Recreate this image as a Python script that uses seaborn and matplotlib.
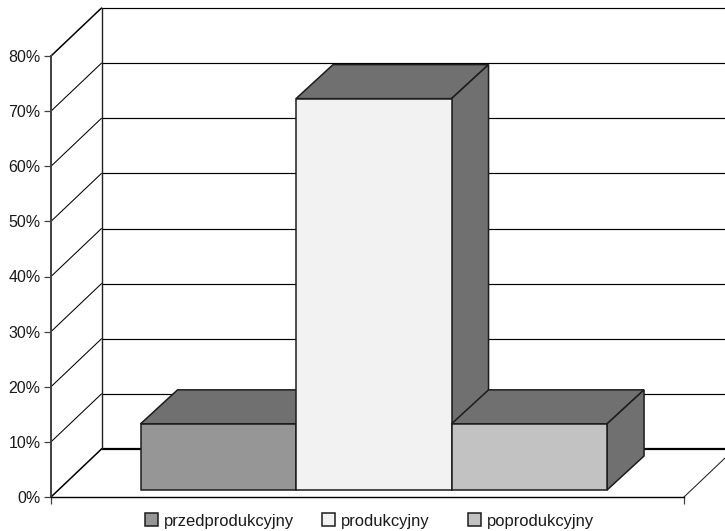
"""Pseudo-3D bar chart (Excel look) drawn with seaborn plus projected faces."""

import matplotlib
matplotlib.use("Agg")
import matplotlib.pyplot as plt
from matplotlib.patches import Polygon
import pandas as pd
import seaborn as sns

CATEGORIES = ["przedprodukcyjny", "produkcyjny", "poprodukcyjny"]
VALUES = [12, 71, 12]
FACE_COLORS = ["#969696", "#f2f2f2", "#c2c2c2"]
Y_TICKS = [0, 10, 20, 30, 40, 50, 60, 70, 80]

SHADE = "#707070"
EDGE = "#1c1c1c"
W, H = 725, 531

# pixel layout of the front plane
X0_PX, X1_PX, Y0_PX, Y80_PX = 51, 684, 497, 56
CAT_PX = 155.5
CAT0_PX = 218.3
PX_PER_PCT = (Y0_PX - Y80_PX) / 80

sns.set_style("white")
plt.rcParams["font.family"] = ["Liberation Sans", "DejaVu Sans"]

fig = plt.figure(figsize=(W / 100, H / 100), dpi=100)
ax = fig.add_axes([X0_PX / W, 1 - Y0_PX / H, (X1_PX - X0_PX) / W, (Y0_PX - Y80_PX) / H])

df = pd.DataFrame({"etap": CATEGORIES, "udzial": VALUES})
sns.barplot(
    data=df, x="etap", y="udzial", hue="etap", palette=FACE_COLORS,
    order=CATEGORIES, hue_order=CATEGORIES, dodge=False, width=1, saturation=1,
    bottom=7 / PX_PER_PCT, edgecolor=EDGE, linewidth=1.1, legend=False, ax=ax,
)

x_min = (X0_PX - CAT0_PX) / CAT_PX
x_max = (X1_PX - CAT0_PX) / CAT_PX
ax.set_xlim(x_min, x_max)
ax.set_ylim(0, 80)
ax.set_xticks([x_min, x_max], ["", ""])
ax.set_yticks(Y_TICKS, [f"{v}%" for v in Y_TICKS])
ax.set_xlabel("")
ax.set_ylabel("")
ax.tick_params(axis="both", length=5, width=0.9, color="#404040", pad=2.5,
               labelsize=11.5, labelcolor="#1a1a1a", bottom=True, left=True)
for side in ("top", "right"):
    ax.spines[side].set_visible(False)
ax.spines["left"].set_color("#404040")
ax.spines["left"].set_linewidth(1.4)
ax.spines["bottom"].set_color("black")
ax.spines["bottom"].set_linewidth(1.0)

# depth of the wall and of the bars, in data units
wall_dx = 50.5 / CAT_PX
wall_dy = 48 / PX_PER_PCT
bar_dx = 37 / CAT_PX
bar_dy = 34 / PX_PER_PCT

# back wall, side wall and floor
for v in Y_TICKS:
    lw = 1.1 if v in (0, 80) else 0.75
    ax.plot([x_min, x_min + wall_dx], [v, v + wall_dy], color="black", lw=lw,
            clip_on=False, zorder=1)
    ax.plot([x_min + wall_dx, x_max + wall_dx], [v + wall_dy, v + wall_dy],
            color="black", lw=1.6 if v == 0 else 0.85, clip_on=False, zorder=1)
ax.plot([x_min + wall_dx, x_min + wall_dx], [wall_dy, 80 + wall_dy], color="#202020",
        lw=1.0, clip_on=False, zorder=1)
ax.plot([x_max, x_max + wall_dx], [0, wall_dy], color="#202020", lw=0.75,
        clip_on=False, zorder=1)

# extrude each bar: later bars sit on top of earlier ones
bars = sorted(ax.patches, key=lambda p: p.get_x())
for i, bar in enumerate(bars):
    left = bar.get_x()
    right = left + bar.get_width()
    low = bar.get_y()
    top = low + bar.get_height()
    z = 3 + i * 2
    ax.add_patch(Polygon(
        [(left, top), (right, top), (right + bar_dx, top + bar_dy), (left + bar_dx, top + bar_dy)],
        closed=True, facecolor=SHADE, edgecolor=EDGE, linewidth=1.1, clip_on=False, zorder=z,
    ))
    ax.add_patch(Polygon(
        [(right, low), (right + bar_dx, low + bar_dy), (right + bar_dx, top + bar_dy), (right, top)],
        closed=True, facecolor=SHADE, edgecolor=EDGE, linewidth=1.1, clip_on=False, zorder=z,
    ))
    bar.set_zorder(z + 1)
    bar.set_clip_on(False)

# one legend per entry, the original columns are not evenly spaced
for bar, label, x_px in zip(bars, CATEGORIES, [145, 322, 468]):
    fig.legend(
        handles=[bar], labels=[label], loc="center left",
        bbox_to_anchor=(x_px / W, 1 - 521 / H), frameon=False, fontsize=11.9,
        borderpad=0, borderaxespad=0, handlelength=0.8, handleheight=0.8, handletextpad=0.35,
        labelcolor="#1a1a1a",
    )

fig.savefig("out.png", dpi=100, facecolor="white")
